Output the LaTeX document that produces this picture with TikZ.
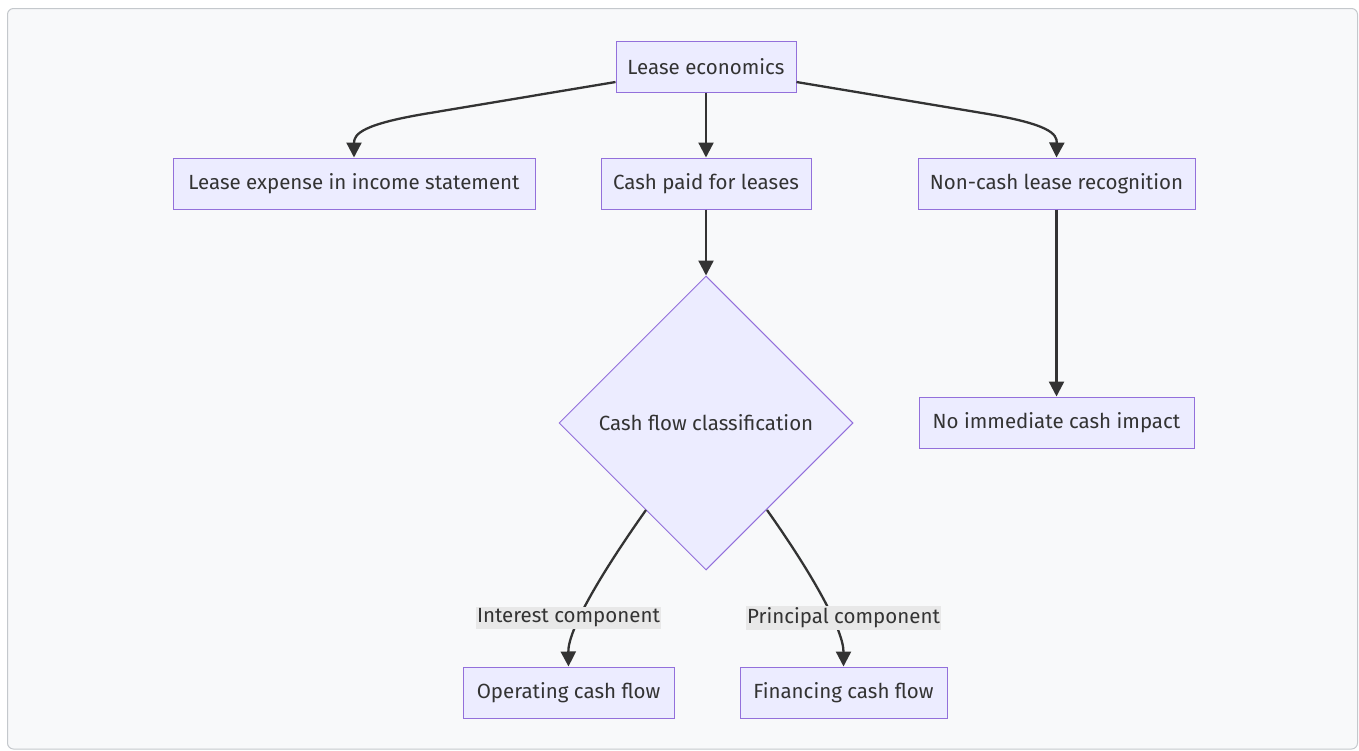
\documentclass[tikz,border=0pt]{standalone}
\usepackage{fontspec}
\setmainfont{Fira Sans}
\usetikzlibrary{shapes.geometric,arrows.meta}
\definecolor{nodefill}{HTML}{ECECFF}
\definecolor{nodeline}{HTML}{9370DB}
\definecolor{edgecol}{HTML}{333333}
\definecolor{txtcol}{HTML}{333333}
\definecolor{bgcol}{HTML}{F8F9FA}
\definecolor{framecol}{HTML}{C4C8CC}
\definecolor{lblbg}{HTML}{E8E8E8}
\tikzset{
  box/.style={draw=nodeline, fill=nodefill, line width=1pt, text=txtcol,
    font=\fontsize{20.5}{24}\selectfont, minimum height=51pt, inner xsep=0pt, anchor=center},
  decide/.style={diamond, aspect=1, draw=nodeline, fill=nodefill, line width=1pt,
    text=txtcol, font=\fontsize{20.5}{24}\selectfont, minimum width=294pt, minimum height=294pt, inner sep=0pt},
  edge/.style={draw=edgecol, line width=2.3pt, -{Triangle[length=15pt,width=15pt]}},
  elabel/.style={fill=lblbg, text=txtcol, font=\fontsize{20.5}{24}\selectfont, inner xsep=1pt, inner ysep=2pt}
}
\begin{document}
\begin{tikzpicture}[x=1pt,y=-1pt]
\useasboundingbox (0,0) rectangle (1359,750);
\draw[framecol, fill=bgcol, line width=1pt, rounded corners=6pt] (7.5,8.5) rectangle (1357.5,749);

\node[box, minimum width=180pt] (le) at (706,66.5) {Lease economics};
\node[box, minimum width=362pt] (exp) at (354,183.5) {Lease expense in income statement};
\node[box, minimum width=210pt] (cash) at (706,183.5) {Cash paid for leases};
\node[box, minimum width=277pt] (nc) at (1056.5,183.5) {Non-cash lease recognition};
\node[decide] (cls) at (706,423) {Cash flow classification};
\node[box, minimum width=275pt] (noimp) at (1056.5,422.5) {No immediate cash impact};
\node[box, minimum width=211pt] (op) at (568.5,692.5) {Operating cash flow};
\node[box, minimum width=207pt] (fin) at (843.5,692.5) {Financing cash flow};

\coordinate (leL) at ([yshift=-15.5pt]le.west);
\coordinate (leR) at ([yshift=-15.5pt]le.east);
\draw[edge] (leL) -- (430,113) .. controls (362,124) and (354,134) .. (exp.north);
\draw[edge] (leR) -- (982,113) .. controls (1050,124) and (1057,134) .. (nc.north);
\draw[edge] (le.south) -- (cash.north);
\draw[edge] (cash.south) -- (cls.north);
\draw[edge] (nc.south) -- (noimp.north);

\coordinate (clsL) at (646,510);
\coordinate (clsR) at (767,510);
\draw[edge] (clsL) .. controls (600,575) and (568,630) .. (op.north);
\draw[edge] (clsR) .. controls (813,575) and (843.5,630) .. (fin.north);
\node[elabel] (l1) at (568.5,618) {Interest component};
\node[elabel] (l2) at (843.5,618) {Principal component};
\end{tikzpicture}
\end{document}
